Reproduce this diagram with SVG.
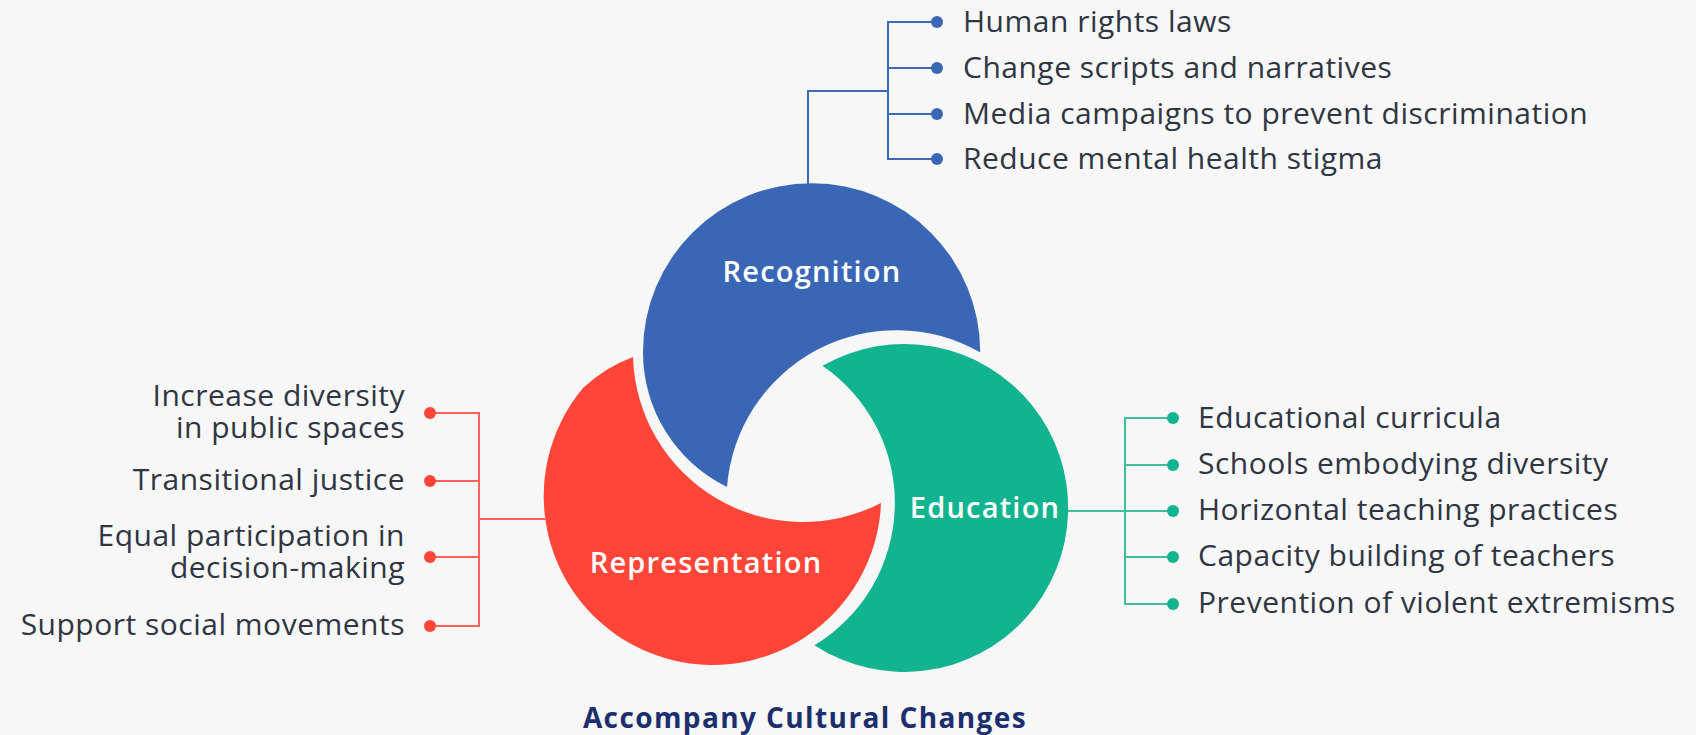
<svg xmlns="http://www.w3.org/2000/svg" width="1696" height="735" viewBox="0 0 1696 735">
  <style>
    .item { font-family: "Open Sans", "Liberation Sans", sans-serif; font-size: 30px; letter-spacing: 0.5px; fill: #2F3542; }
    .label { font-family: "Open Sans", "Liberation Sans", sans-serif; font-size: 29px; font-weight: 600; letter-spacing: 1.2px; fill: #FFFFFF; text-anchor: middle; }
    .title { font-family: "Open Sans", "Liberation Sans", sans-serif; font-size: 28px; font-weight: 700; letter-spacing: 1.4px; fill: #1B2F6E; text-anchor: middle; }
    .bl { stroke: #3E69B8; stroke-width: 2; fill: none; }
    .rl { stroke: #FF6358; stroke-width: 2; fill: none; }
    .gl { stroke: #3FBE9B; stroke-width: 2; fill: none; }
    .bd { fill: #3A67B5; }
    .rd { fill: #FF4538; }
    .gd { fill: #12B48F; }
  </style>
  <rect width="1696" height="735" fill="#F7F7F7"/>

  <g id="connectors">
    <!-- Recognition -->
    <path class="bl" d="M808 184 V91 H888"/>
    <path class="bl" d="M937 22 H888 V159 H937 M888 68 H937 M888 114 H937"/>
    <!-- Representation -->
    <path class="rl" d="M545 519 H479"/>
    <path class="rl" d="M430 413 H479 V626 H430 M479 481 H430 M479 557 H430"/>
    <!-- Education -->
    <path class="gl" d="M1067 511 H1173"/>
    <path class="gl" d="M1173 418 H1125 V604 H1173 M1125 465 H1173 M1125 557 H1173"/>
  </g>

  <g id="recognition">
    <path fill="#3A67B5" d="M980.2 352.2 A168.5 168.5 0 0 0 643 351.5 A150 150 0 0 0 727 487 A170 170 0 0 1 980.2 352.2 Z"/>
    <text class="label" x="812" y="282">Recognition</text>
  </g>
  <g id="representation">
    <path fill="#FF4538" d="M633 357 A150 150 0 0 0 583 388 A168.7 168.7 0 1 0 881 503 A170 170 0 0 1 633 357 Z"/>
    <text class="label" x="706" y="573">Representation</text>
  </g>
  <g id="education">
    <path fill="#12B48F" d="M822.4 365.8 A164 164 0 1 1 814.4 645.2 A166 166 0 0 0 822.4 365.8 Z"/>
    <text class="label" x="985" y="518">Education</text>
  </g>

  <g id="recognition-items">
    <circle class="bd" cx="937" cy="22" r="6"/>
    <circle class="bd" cx="937" cy="68" r="6"/>
    <circle class="bd" cx="937" cy="114" r="6"/>
    <circle class="bd" cx="937" cy="159" r="6"/>
    <text class="item" x="963" y="32">Human rights laws</text>
    <text class="item" x="963" y="78">Change scripts and narratives</text>
    <text class="item" x="963" y="124">Media campaigns to prevent discrimination</text>
    <text class="item" x="963" y="169">Reduce mental health stigma</text>
  </g>

  <g id="representation-items">
    <circle class="rd" cx="430" cy="413" r="6"/>
    <circle class="rd" cx="430" cy="481" r="6"/>
    <circle class="rd" cx="430" cy="557" r="6"/>
    <circle class="rd" cx="430" cy="626" r="6"/>
    <text class="item" text-anchor="end"><tspan x="405" y="406">Increase diversity</tspan><tspan x="405" y="438">in public spaces</tspan></text>
    <text class="item" text-anchor="end" x="405" y="490">Transitional justice</text>
    <text class="item" text-anchor="end"><tspan x="405" y="546">Equal participation in</tspan><tspan x="405" y="578">decision-making</tspan></text>
    <text class="item" text-anchor="end" x="405" y="635">Support social movements</text>
  </g>

  <g id="education-items">
    <circle class="gd" cx="1173" cy="418" r="6"/>
    <circle class="gd" cx="1173" cy="465" r="6"/>
    <circle class="gd" cx="1173" cy="511" r="6"/>
    <circle class="gd" cx="1173" cy="557" r="6"/>
    <circle class="gd" cx="1173" cy="604" r="6"/>
    <text class="item" x="1198" y="428">Educational curricula</text>
    <text class="item" x="1198" y="474">Schools embodying diversity</text>
    <text class="item" x="1198" y="520">Horizontal teaching practices</text>
    <text class="item" x="1198" y="566">Capacity building of teachers</text>
    <text class="item" x="1198" y="613">Prevention of violent extremisms</text>
  </g>

  <g id="title">
    <text class="title" x="805" y="728">Accompany Cultural Changes</text>
  </g>
</svg>
